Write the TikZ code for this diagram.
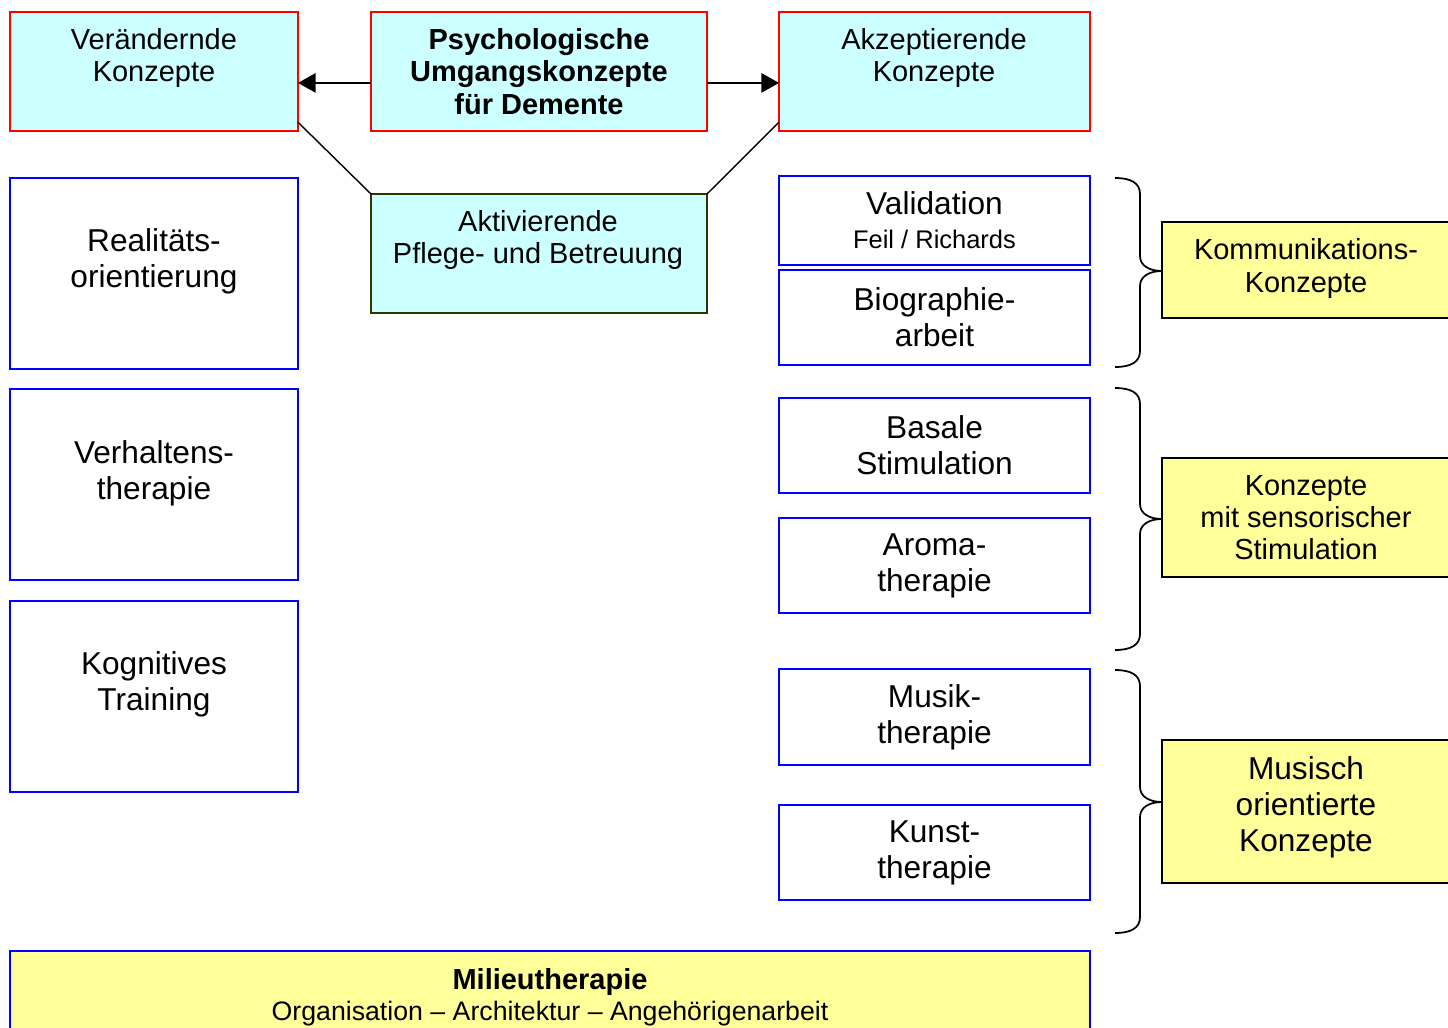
\documentclass[tikz,border=0pt]{standalone}
\usepackage{fontspec}
\setmainfont{Liberation Sans}
\usetikzlibrary{arrows.meta}
\definecolor{lightcyan}{HTML}{CCFFFF}
\definecolor{lightyellow}{HTML}{FFFF99}
\definecolor{olivedark}{HTML}{333300}

\begin{document}
\begin{tikzpicture}[x=0.02cm, y=-0.02cm,
    box/.style={rectangle, inner sep=0pt, outer sep=0pt, line width=1pt, align=center},
    redbox/.style={box, draw=red, fill=lightcyan},
    greenbox/.style={box, draw=olivedark, fill=lightcyan},
    bluebox/.style={box, draw=blue, fill=white},
    yellowbox/.style={box, draw=black, fill=lightyellow},
    milieubox/.style={box, draw=blue, fill=lightyellow},
    txt/.style={align=center, inner sep=0pt, font=\fontsize{16.5}{18.3}\selectfont},
    bigtxt/.style={align=center, inner sep=0pt, font=\fontsize{18}{20.4}\selectfont},
    arr/.style={line width=0.8pt, -{Triangle[length=10pt, width=11pt]}},
    grp/.style={line width=1pt}]
    \useasboundingbox (0,0) rectangle (1448,1028);
    \clip (0,0) rectangle (1448,1028);
    % top row
    \node[redbox, minimum width=5.76cm, minimum height=2.38cm] (veraend) at (154,71.5) {};
    \node[redbox, minimum width=6.72cm, minimum height=2.38cm, font=\bfseries\fontsize{16.5}{18.5}\selectfont] (psych) at (539,71.5) {Psychologische\\Umgangskonzepte\\für Demente};
    \node[redbox, minimum width=6.22cm, minimum height=2.38cm] (akzept) at (934.5,71.5) {};
    \node[txt] at (154,58) {Verändernde\\Konzepte};
    \node[txt] at (934,58) {Akzeptierende\\Konzepte};
    \node[greenbox, minimum width=6.72cm, minimum height=2.38cm] (aktiv) at (539,253.5) {};
    \node[txt] at (538,240) {Aktivierende\\Pflege- und Betreuung};
    \draw[arr] ([yshift=-6.5pt]psych.west) -- ([yshift=-6.5pt]veraend.east);
    \draw[arr] ([yshift=-6.5pt]psych.east) -- ([yshift=-6.5pt]akzept.west);
    \draw[line width=0.8pt] ([yshift=5pt]veraend.south east) -- (aktiv.north west);
    \draw[line width=0.8pt] ([yshift=5pt]akzept.south west) -- (aktiv.north east);
    % left column
    \node[bluebox, minimum width=5.76cm, minimum height=3.82cm] (real) at (154,273.5) {};
    \node[bigtxt] at (154,261) {Realitäts-\\orientierung};
    \node[bluebox, minimum width=5.76cm, minimum height=3.82cm] (verh) at (154,484.5) {};
    \node[bigtxt] at (154,473) {Verhaltens-\\therapie};
    \node[bluebox, minimum width=5.76cm, minimum height=3.82cm] (kogn) at (154,696.5) {};
    \node[bigtxt] at (154,684.5) {Kognitives\\Training};
    % right column
    \node[bluebox, bigtxt, minimum width=6.22cm, minimum height=1.78cm, font=\fontsize{18}{19.3}\selectfont] (valid) at (934.5,220.5) {Validation\\{\fontsize{14.5}{16}\selectfont Feil / Richards}};
    \node[bluebox, bigtxt, minimum width=6.22cm, minimum height=1.9cm] (bio) at (934.5,317.5) {Biographie-\\arbeit};
    \node[bluebox, bigtxt, minimum width=6.22cm, minimum height=1.9cm] (basal) at (934.5,445.5) {Basale\\Stimulation};
    \node[bluebox, bigtxt, minimum width=6.22cm, minimum height=1.9cm] (aroma) at (934.5,565.5) {Aroma-\\therapie};
    \node[bluebox, bigtxt, minimum width=6.22cm, minimum height=1.92cm] (musik) at (934.5,717) {Musik-\\therapie};
    \node[bluebox, bigtxt, minimum width=6.22cm, minimum height=1.9cm] (kunst) at (934.5,852.5) {Kunst-\\therapie};
    % groups
    \node[yellowbox, minimum width=6cm, minimum height=1.92cm] (komm) at (1312,270) {};
    \node[txt] at (1306,268.5) {Kommunikations-\\Konzepte};
    \node[yellowbox, minimum width=6cm, minimum height=2.38cm] (sensor) at (1312,517.5) {};
    \node[txt] at (1306,518) {Konzepte\\mit sensorischer\\Stimulation};
    \node[yellowbox, minimum width=6cm, minimum height=2.86cm] (musisch) at (1312,811.5) {};
    \node[bigtxt] at (1306,807) {Musisch\\orientierte\\Konzepte};
    % braces
    \foreach \t/\m/\b in {178/271/367, 388/519/650, 670/802/933}
        \draw[grp] (1115,\t) .. controls (1131,\t) and (1140,\t+5) .. (1140,\t+16)
            -- (1140,\m-15) .. controls (1140,\m-5) and (1150,\m) .. (1162,\m)
            .. controls (1150,\m) and (1140,\m+5) .. (1140,\m+15)
            -- (1140,\b-16) .. controls (1140,\b-5) and (1131,\b) .. (1115,\b);
    % bottom
    \node[milieubox, minimum width=21.6cm, minimum height=1.78cm] (milieu) at (550,995.5) {};
    \node[txt, font=\fontsize{16}{17.6}\selectfont] at (550,997.5) {{\fontsize{16.5}{17.6}\selectfont\bfseries Milieutherapie}\\{\fontsize{15.2}{17.6}\selectfont Organisation – Architektur – Angehörigenarbeit}};
\end{tikzpicture}
\end{document}
